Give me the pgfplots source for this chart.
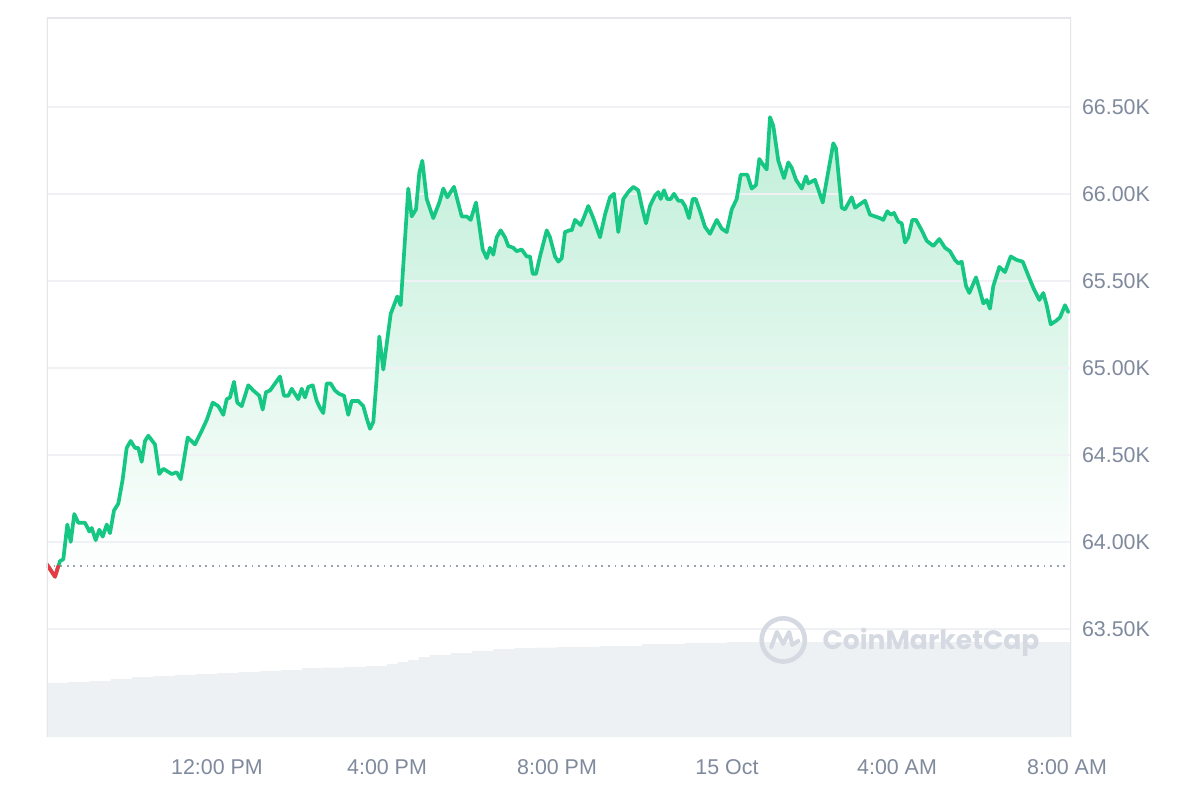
\documentclass[border=0pt]{standalone}
\usepackage{pgfplots}
\pgfplotsset{compat=1.18}
\usepackage{pgfplotstable}
\usepackage{fontspec}
\setmainfont{Liberation Sans}
\newfontfamily\cmcfont{Poppins}

\definecolor{cmcgreen}{HTML}{16C784}
\definecolor{cmcred}{HTML}{EA3943}
\definecolor{ticktext}{HTML}{808A9D}
\definecolor{gridc}{HTML}{EFF1F4}
\definecolor{borderc}{HTML}{E4E6EA}
\definecolor{volc}{HTML}{EEF1F4}
\definecolor{wmc}{HTML}{D5DAE2}
\definecolor{fillg}{HTML}{BFEED8}
\definecolor{dotc}{HTML}{9AA2AF}

\pgfplotstableread{
h p
0.000 63.87
0.188 63.80
0.266 63.86
0.306 63.89
0.384 63.90
0.478 64.10
0.558 64.00
0.642 64.16
0.736 64.11
0.894 64.11
0.995 64.06
1.052 64.08
1.146 64.01
1.231 64.07
1.311 64.03
1.405 64.10
1.482 64.05
1.576 64.18
1.678 64.22
1.781 64.36
1.875 64.54
1.969 64.58
2.071 64.54
2.148 64.54
2.228 64.46
2.306 64.58
2.384 64.61
2.541 64.56
2.642 64.39
2.736 64.42
2.934 64.39
3.052 64.40
3.146 64.36
3.311 64.60
3.482 64.56
3.624 64.63
3.758 64.70
3.899 64.80
4.031 64.78
4.148 64.73
4.228 64.82
4.306 64.83
4.400 64.92
4.478 64.80
4.581 64.78
4.736 64.90
4.854 64.87
4.995 64.84
5.075 64.76
5.153 64.86
5.247 64.87
5.365 64.91
5.482 64.95
5.576 64.84
5.678 64.84
5.758 64.88
5.913 64.82
5.993 64.88
6.071 64.83
6.148 64.89
6.252 64.90
6.346 64.81
6.424 64.77
6.501 64.74
6.581 64.91
6.675 64.91
6.776 64.87
6.878 64.85
6.988 64.84
7.089 64.73
7.169 64.81
7.325 64.81
7.442 64.78
7.522 64.71
7.600 64.65
7.678 64.69
7.753 64.93
7.819 65.18
7.913 64.99
8.087 65.31
8.242 65.41
8.322 65.36
8.501 66.03
8.581 65.87
8.682 65.91
8.760 66.12
8.831 66.19
8.934 65.97
9.089 65.86
9.231 65.95
9.325 66.03
9.419 65.98
9.576 66.04
9.758 65.87
9.875 65.87
9.969 65.85
10.094 65.95
10.252 65.68
10.346 65.63
10.424 65.69
10.501 65.65
10.581 65.75
10.675 65.79
10.776 65.75
10.854 65.70
10.972 65.69
11.052 65.67
11.169 65.68
11.287 65.64
11.365 65.64
11.428 65.54
11.506 65.54
11.600 65.64
11.758 65.79
11.835 65.75
11.953 65.64
12.031 65.61
12.111 65.63
12.188 65.78
12.289 65.79
12.346 65.79
12.424 65.85
12.558 65.82
12.642 65.87
12.736 65.93
12.854 65.86
13.012 65.75
13.129 65.88
13.247 65.98
13.341 66.00
13.442 65.78
13.560 65.97
13.678 66.01
13.795 66.04
13.913 66.02
13.993 65.93
14.094 65.83
14.188 65.93
14.306 65.99
14.384 66.01
14.440 65.97
14.518 66.02
14.595 65.97
14.675 65.97
14.753 66.00
14.854 65.96
14.934 65.96
15.012 65.93
15.106 65.86
15.193 65.97
15.264 65.97
15.365 65.90
15.482 65.81
15.600 65.77
15.758 65.85
15.875 65.80
15.993 65.78
16.111 65.91
16.228 65.97
16.322 66.11
16.478 66.11
16.581 66.03
16.682 66.05
16.760 66.20
16.840 66.17
16.934 66.14
17.012 66.44
17.089 66.39
17.207 66.19
17.341 66.09
17.442 66.18
17.522 66.15
17.624 66.08
17.758 66.03
17.859 66.10
17.913 66.06
18.071 66.08
18.252 65.95
18.384 66.13
18.501 66.29
18.565 66.26
18.699 65.92
18.776 65.91
18.934 65.98
19.012 65.92
19.129 65.94
19.247 65.96
19.365 65.88
19.482 65.87
19.600 65.86
19.678 65.85
19.772 65.90
19.852 65.88
19.929 65.89
20.031 65.84
20.111 65.83
20.188 65.72
20.266 65.75
20.360 65.85
20.447 65.85
20.581 65.79
20.699 65.73
20.854 65.70
20.995 65.74
21.129 65.69
21.247 65.67
21.365 65.62
21.442 65.60
21.522 65.61
21.624 65.47
21.701 65.43
21.859 65.52
21.953 65.44
22.031 65.37
22.111 65.39
22.188 65.34
22.266 65.47
22.408 65.58
22.541 65.55
22.675 65.64
22.816 65.62
22.958 65.61
23.089 65.53
23.207 65.46
23.348 65.39
23.442 65.43
23.522 65.36
23.616 65.25
23.741 65.27
23.835 65.29
23.953 65.36
24.031 65.32
}\price

\pgfplotstableread{
h p
0.000 63.87
0.188 63.80
0.266 63.86
}\pricered

\pgfplotstableread{
h v
0 54
0.5 55
1 56
1.5 58
2 60
2.5 61
3 62
3.5 63
4 64
4.5 65
5 66
5.5 67
6 69
6.5 69.5
7 70
7.5 71
8 73
8.25 75
8.5 77
8.75 80
9 82
9.5 84
10 86
10.5 88
11 89
11.5 89.5
12 90
13 91
14 93
15 94
16 95
24.094 95
}\volume

\begin{document}
\begin{tikzpicture}
\path[use as bounding box, fill=white] (-23.5pt,-31.5pt) rectangle (576.5pt,368.5pt);

% volume axis
\begin{axis}[
  at={(0,0)}, anchor=south west,
  width=512pt, height=359.5pt, scale only axis,
  xmin=0, xmax=24.094, ymin=0, ymax=719,
  hide axis,
]
\addplot[const plot, draw=none, fill=volc] table[x=h, y=v] {\volume} \closedcycle;
\end{axis}

% price axis
\begin{axis}[
  at={(0,0)}, anchor=south west,
  width=512pt, height=359.5pt, scale only axis,
  xmin=0, xmax=24.094, ymin=62.879, ymax=67.01,
  axis line style={draw=none},
  major tick length=0pt,
  xtick={4,8,12,16,20,24},
  xticklabels={12:00 PM,4:00 PM,8:00 PM,15 Oct,4:00 AM,8:00 AM},
  ytick={63.5,64,64.5,65,65.5,66,66.5},
  yticklabels={63.50K,64.00K,64.50K,65.00K,65.50K,66.00K,66.50K},
  yticklabel pos=right,
  tick label style={font=\fontsize{10.7}{12}\selectfont, text=ticktext},
  yticklabel style={anchor=west, xshift=2pt},
  xticklabel style={anchor=north, yshift=-7.9pt},
  clip=true,
]
% gradient area between the line and the opening price
\addplot[draw=none, top color=fillg, bottom color=white, forget plot]
  table[x=h, y=p] {\price} -- (axis cs:24.031,63.862) -- (axis cs:0,63.862) -- cycle;
% horizontal grid lines
\addplot[gridc, line width=0.75pt, forget plot] coordinates {(0,63.5) (24.094,63.5)};
\addplot[gridc, line width=0.75pt, forget plot] coordinates {(0,64.0) (24.094,64.0)};
\addplot[gridc, line width=0.75pt, forget plot] coordinates {(0,64.5) (24.094,64.5)};
\addplot[gridc, line width=0.75pt, forget plot] coordinates {(0,65.0) (24.094,65.0)};
\addplot[gridc, line width=0.75pt, forget plot] coordinates {(0,65.5) (24.094,65.5)};
\addplot[gridc, line width=0.75pt, forget plot] coordinates {(0,66.0) (24.094,66.0)};
\addplot[gridc, line width=0.75pt, forget plot] coordinates {(0,66.5) (24.094,66.5)};
% opening price reference
\addplot[dotc, line width=0.9pt, dash pattern=on 0.9pt off 2.4pt, forget plot]
  coordinates {(0,63.862) (24.094,63.862)};
% price line
\addplot[cmcgreen, line width=1.85pt, line join=round, line cap=round]
  table[x=h, y=p] {\price};
\addplot[cmcred, line width=1.85pt, line join=round, line cap=round]
  table[x=h, y=p] {\pricered};
% frame
\draw[borderc, line width=1pt] (rel axis cs:0,0) -- (rel axis cs:0,1) -- (rel axis cs:1,1) -- (rel axis cs:1,0);
% watermark
\draw[wmc, line width=2.3pt] (rel axis cs:0.719,0.135) circle (10.8pt);
\draw[wmc, line width=2pt, line join=round, line cap=round, shift={(rel axis cs:0.719,0.135)}]
  (-6pt,-3.5pt) -- (-3.2pt,4pt) -- (0pt,-2pt) -- (3pt,4pt) -- (4.5pt,-2.5pt) -- (7.5pt,-0.5pt);
\node[anchor=west, text=wmc, font=\cmcfont\bfseries\fontsize{13.3}{15}\selectfont, inner sep=0pt]
  at (rel axis cs:0.757,0.131) {CoinMarketCap};
\end{axis}
\end{tikzpicture}
\end{document}
